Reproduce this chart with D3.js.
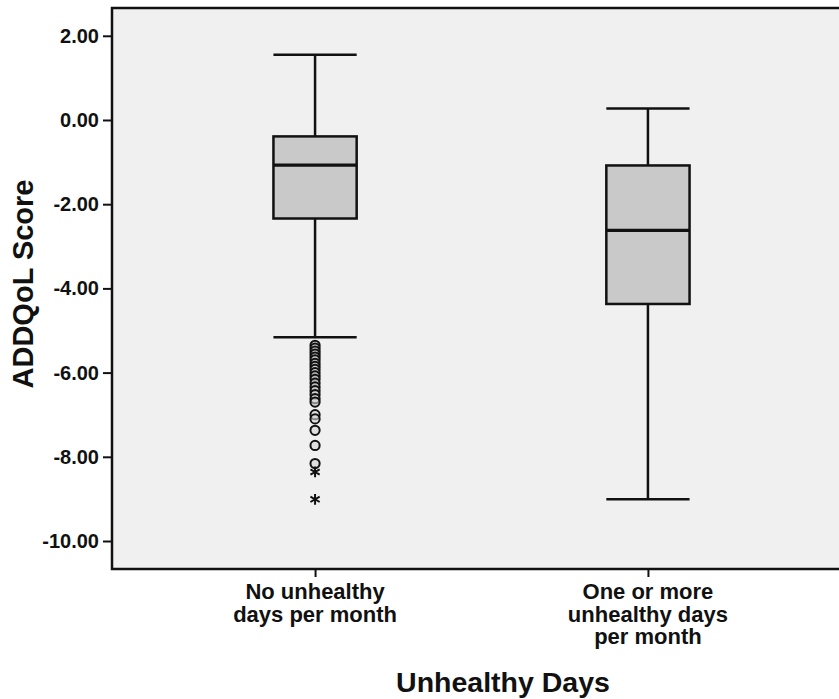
<!DOCTYPE html>
<html>
<head>
<meta charset="utf-8">
<script src="https://cdn.jsdelivr.net/npm/d3@7"></script>
<style>
  body { margin: 0; background: #fff; overflow: hidden; }
  text { font-family: Arial, "Liberation Sans", sans-serif; font-weight: bold; fill: #111; }
</style>
</head>
<body>
<svg width="839" height="699"></svg>
<script>
// data
const categories = ["No unhealthy days per month", "One or more unhealthy days per month"];
const categoryLines = [["No unhealthy", "days per month"], ["One or more", "unhealthy days", "per month"]];
const whiskerHigh = [1.55, 0.27];
const q3 = [-0.39, -1.08];
const median = [-1.07, -2.62];
const q1 = [-2.34, -4.37];
const whiskerLow = [-5.16, -9.01];
const yTicks = [2, 0, -2, -4, -6, -8, -10];

// outliers of the first group (circles) and extremes (stars)
const outlierValues = [-5.35, -5.42, -5.49, -5.56, -5.63, -5.7, -5.78, -5.85, -5.92, -6.0,
  -6.08, -6.16, -6.25, -6.34, -6.43, -6.52, -6.62, -6.7, -7.0, -7.1, -7.37, -7.73, -8.16];
const extremeValues = [-8.36, -9.01];

const svg = d3.select("svg");
const plotLeft = 112, plotRight = 851, plotTop = 8, plotBottom = 569;

const x = d3.scalePoint().domain(categories).range([plotLeft, plotRight]).padding(0.61);
const y = d3.scaleLinear().domain([2.66, -10.665]).range([plotTop, plotBottom]);
const step = x.step();
const boxW = step * 0.25, capW = step * 0.125;

// plot background and frame
svg.append("rect")
  .attr("x", plotLeft).attr("y", plotTop)
  .attr("width", plotRight - plotLeft).attr("height", plotBottom - plotTop)
  .attr("fill", "#f0f0f0")
  .attr("stroke", "#111").attr("stroke-width", 2.5);

// y axis (plain hyphen for negatives, like the original)
const yAxis = svg.append("g")
  .attr("transform", "translate(" + plotLeft + ",0)")
  .call(d3.axisLeft(y).tickValues(yTicks).tickSize(9).tickPadding(4)
    .tickFormat(d => d.toFixed(2)));
yAxis.select(".domain").remove();
yAxis.selectAll("line").attr("stroke", "#111").attr("stroke-width", 2);
yAxis.selectAll("text").attr("font-size", "20px").attr("font-family", null).attr("fill", "#111");

// x axis ticks
const xAxis = svg.append("g")
  .attr("transform", "translate(0," + plotBottom + ")")
  .call(d3.axisBottom(x).tickSize(8).tickFormat(""));
xAxis.select(".domain").remove();
xAxis.selectAll("line").attr("stroke", "#111").attr("stroke-width", 2);

// category labels
categories.forEach(function (c, i) {
  const t = svg.append("text")
    .attr("text-anchor", "middle")
    .attr("font-size", "22px");
  categoryLines[i].forEach(function (line, j) {
    t.append("tspan")
      .attr("x", x(c))
      .attr("y", 599 + j * 22.6)
      .text(line);
  });
});

// boxes
const g = svg.append("g")
  .selectAll("g")
  .data(categories)
  .enter()
  .append("g");

g.append("line")
  .attr("x1", d => x(d)).attr("x2", d => x(d))
  .attr("y1", (d, i) => y(whiskerHigh[i])).attr("y2", (d, i) => y(q3[i]))
  .attr("stroke", "#111").attr("stroke-width", 2.5);
g.append("line")
  .attr("x1", d => x(d)).attr("x2", d => x(d))
  .attr("y1", (d, i) => y(q1[i])).attr("y2", (d, i) => y(whiskerLow[i]))
  .attr("stroke", "#111").attr("stroke-width", 2.5);
g.append("line")
  .attr("x1", d => x(d) - capW).attr("x2", d => x(d) + capW)
  .attr("y1", (d, i) => y(whiskerHigh[i])).attr("y2", (d, i) => y(whiskerHigh[i]))
  .attr("stroke", "#111").attr("stroke-width", 2.5);
g.append("line")
  .attr("x1", d => x(d) - capW).attr("x2", d => x(d) + capW)
  .attr("y1", (d, i) => y(whiskerLow[i])).attr("y2", (d, i) => y(whiskerLow[i]))
  .attr("stroke", "#111").attr("stroke-width", 2.5);
g.append("rect")
  .attr("x", d => x(d) - boxW / 2)
  .attr("y", (d, i) => y(q3[i]))
  .attr("width", boxW)
  .attr("height", (d, i) => y(q1[i]) - y(q3[i]))
  .attr("fill", "#c9c9c9")
  .attr("stroke", "#111").attr("stroke-width", 2.5);
g.append("line")
  .attr("x1", d => x(d) - boxW / 2).attr("x2", d => x(d) + boxW / 2)
  .attr("y1", (d, i) => y(median[i])).attr("y2", (d, i) => y(median[i]))
  .attr("stroke", "#111").attr("stroke-width", 3.2);

// outliers
svg.append("g")
  .selectAll("circle")
  .data(outlierValues)
  .enter()
  .append("circle")
  .attr("cx", x(categories[0]))
  .attr("cy", d => y(d))
  .attr("r", 4.6)
  .attr("fill", "#d4d4d4")
  .attr("fill-opacity", 0.6)
  .attr("stroke", "#111")
  .attr("stroke-width", 2);

svg.append("g")
  .selectAll("path")
  .data(extremeValues)
  .enter()
  .append("path")
  .attr("transform", d => "translate(" + x(categories[0]) + "," + y(d) + ")")
  .attr("d", d3.symbol().type(d3.symbolAsterisk).size(80))
  .attr("fill", "none")
  .attr("stroke", "#111")
  .attr("stroke-width", 2);

// axis titles
svg.append("text")
  .attr("transform", "translate(33,284)rotate(-90)")
  .attr("text-anchor", "middle")
  .attr("font-size", "29px")
  .text("ADDQoL Score");

svg.append("text")
  .attr("x", 503)
  .attr("y", 692)
  .attr("text-anchor", "middle")
  .attr("font-size", "28.5px")
  .text("Unhealthy Days");
</script>
</body>
</html>
